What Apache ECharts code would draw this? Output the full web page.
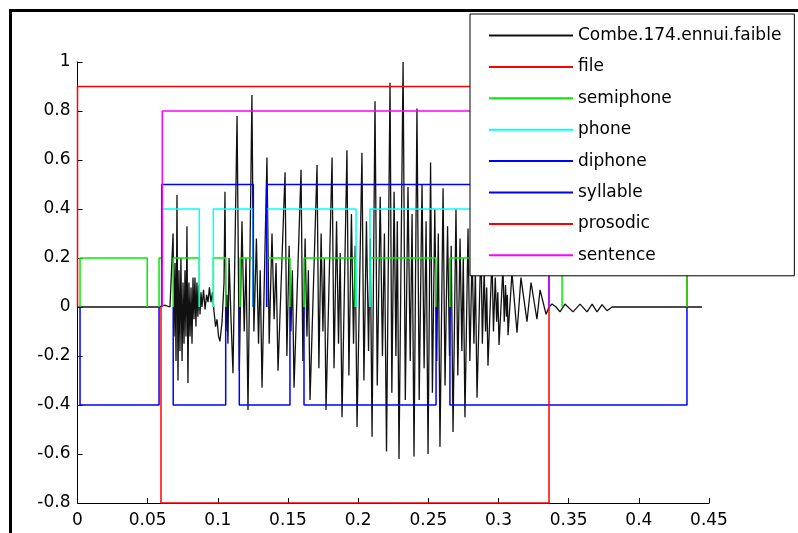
<!DOCTYPE html>
<html>
<head>
<meta charset="utf-8">
<script src="https://cdn.jsdelivr.net/npm/echarts@6/dist/echarts.min.js"></script>
<style>
  html, body { margin: 0; padding: 0; background: #fff; }
  #chart { width: 798px; height: 533px; }
</style>
</head>
<body>
<div id="chart"></div>
<script>
var waveTime = [
  0, 0.0580, 0.0620, 0.0659,
  0.0681, 0.0688, 0.0695, 0.0702, 0.0709, 0.0716, 0.0723, 0.0730, 0.0737, 0.0745, 0.0752, 0.0759, 0.0766, 0.0773,
  0.0780, 0.0787, 0.0794, 0.0802, 0.0809, 0.0816, 0.0823, 0.0830, 0.0837, 0.0844, 0.0851, 0.0858, 0.0866, 0.0873,
  0.0880, 0.0887, 0.0898, 0.0909, 0.0920, 0.0930, 0.0940, 0.0951, 0.0962, 0.0973, 0.0984, 0.0994, 0.1005, 0.1015,
  0.1030, 0.1044, 0.1051, 0.1058, 0.1065, 0.1072, 0.1080, 0.1094,
  0.1108, 0.1137, 0.1153, 0.1172, 0.1188, 0.1201,
  0.1215, 0.1243, 0.1257, 0.1275, 0.1290, 0.1302,
  0.1315, 0.1350, 0.1366, 0.1386, 0.1401, 0.1415,
  0.1429, 0.1479, 0.1492, 0.1508, 0.1521, 0.1531,
  0.1543, 0.1593, 0.1606, 0.1622, 0.1635, 0.1645,
  0.1657, 0.1707, 0.1720, 0.1736, 0.1749, 0.1759,
  0.1771, 0.1814, 0.1828, 0.1846, 0.1860, 0.1872,
  0.1885, 0.1920, 0.1934, 0.1952, 0.1967, 0.1979,
  0.1992, 0.2027, 0.2041, 0.2059, 0.2074, 0.2086,
  0.2099, 0.2120, 0.2136, 0.2157, 0.2173, 0.2187,
  0.2202, 0.2227, 0.2240, 0.2256, 0.2269, 0.2279,
  0.2291, 0.2320, 0.2336, 0.2355, 0.2371, 0.2384,
  0.2398, 0.2419, 0.2435, 0.2455, 0.2470, 0.2484,
  0.2498, 0.2516, 0.2529, 0.2546, 0.2560, 0.2571,
  0.2583, 0.2605, 0.2619, 0.2637, 0.2651, 0.2663,
  0.2676, 0.2697, 0.2710, 0.2726, 0.2739, 0.2749,
  0.2761, 0.2783, 0.2796, 0.2812, 0.2825, 0.2835,
  0.2847, 0.2875, 0.2885, 0.2898, 0.2908, 0.2916,
  0.2925, 0.2954, 0.2964, 0.2977, 0.2987, 0.2995,
  0.3004, 0.3032, 0.3041, 0.3050, 0.3057, 0.3063,
  0.3068, 0.3096, 0.3132, 0.3160, 0.3203, 0.3232, 0.3274, 0.3296,
  0.3339, 0.3360, 0.3381, 0.3410, 0.3438, 0.3474, 0.3531, 0.3581, 0.3631, 0.3667, 0.3702, 0.3738, 0.3773, 0.3809, 0.4450
];
var waveAmp = [
  0, 0, 0.008, 0,
  0.30, -0.12, 0.18, -0.22, 0.457, -0.30, 0.15, -0.18, 0.20, -0.22, 0.10, -0.15, 0.15, -0.12,
  0.33, -0.31, 0.10, -0.12, 0.08, -0.15, 0.12, -0.05, 0.12, -0.08, 0.10, -0.04, 0.09, -0.03,
  0.06, 0.0, 0.07, -0.01, 0.05, 0.02, 0.08, 0.02, 0.06, -0.02, -0.08, -0.05, -0.12, -0.14,
  -0.06, 0.10, 0.47, -0.10, 0.05, -0.15, 0.20, -0.05,
  -0.27, 0.78, -0.26, 0.35, -0.10, 0.20,
  -0.42, 0.865, -0.10, 0.28, -0.15, 0.15,
  -0.33, 0.61, -0.15, 0.30, -0.05, 0.18,
  -0.26, 0.55, -0.20, 0.25, -0.10, 0.15,
  -0.33, 0.56, -0.22, 0.28, -0.12, 0.15,
  -0.38, 0.58, -0.25, 0.30, -0.10, 0.20,
  -0.42, 0.61, -0.25, 0.35, -0.15, 0.22,
  -0.45, 0.64, -0.28, 0.38, -0.15, 0.25,
  -0.49, 0.63, -0.30, 0.35, -0.18, 0.28,
  -0.53, 0.84, -0.32, 0.45, -0.20, 0.30,
  -0.59, 0.915, -0.35, 0.47, -0.20, 0.35,
  -0.62, 1.0, -0.38, 0.49, -0.22, 0.38,
  -0.61, 0.81, -0.38, 0.50, -0.25, 0.35,
  -0.60, 0.59, -0.35, 0.40, -0.22, 0.30,
  -0.57, 0.485, -0.32, 0.33, -0.20, 0.25,
  -0.51, 0.40, -0.28, 0.28, -0.18, 0.20,
  -0.45, 0.32, -0.22, 0.22, -0.15, 0.15,
  -0.37, 0.26, -0.15, 0.15, -0.10, 0.08,
  -0.24, 0.20, -0.10, 0.12, -0.06, 0.06,
  -0.155, 0.16, -0.06, 0.09, -0.04, 0.05,
  -0.115, 0.14, -0.105, 0.12, -0.06, 0.10, -0.05, 0.07,
  -0.03, 0.0, 0.012, 0.0, -0.02, 0.012, -0.02, 0.012, -0.02, 0.012, -0.02, 0.01, -0.015, 0, 0
];

// segmentation tiers: [start, end] in seconds
var fileSegs = [[0, 0.4343]];
var semiphoneSegs = [[0.0018, 0.0497], [0.0581, 0.0600], [0.0682, 0.0868], [0.0968, 0.1056], [0.1158, 0.1253],
  [0.1348, 0.1514], [0.1614, 0.1978], [0.2084, 0.2553], [0.2654, 0.3360], [0.3453, 0.4343]];
var phoneSegs = [[0.0604, 0.0868], [0.0968, 0.1250], [0.1348, 0.1985], [0.2084, 0.3360]];
var diphoneSegs = [[0.0600, 0.1253], [0.1348, 0.3360]];
var syllableSegs = [[0.0018, 0.0581], [0.0682, 0.1056], [0.1153, 0.1514], [0.1614, 0.2555], [0.2654, 0.4343]];
var prosodicSegs = [[0.0595, 0.3360]];
var sentenceSegs = [[0.0604, 0.3360]];

var tierNames = ['file', 'semiphone', 'phone', 'diphone', 'syllable', 'prosodic', 'sentence'];
var tierLevels = [0.9, 0.2, 0.4, 0.5, -0.4, -0.8, 0.8];
var tierColors = ['#ff0000', '#00ee00', '#00ffff', '#0000ff', '#0000ff', '#ff0000', '#ff00ff'];
var tierSegs = [fileSegs, semiphoneSegs, phoneSegs, diphoneSegs, syllableSegs, prosodicSegs, sentenceSegs];

var xTicks = [0, 0.45, 0.05];
var yTicks = [-0.8, 1, 0.2];

function boxes(segs, level) {
  var pts = [];
  segs.forEach(function (s) {
    pts.push([s[0], 0], [s[0], level], [s[1], level], [s[1], 0], [null, null]);
  });
  return pts;
}

var wave = waveTime.map(function (t, i) { return [t, waveAmp[i]]; });

var series = [{
  name: 'Combe.174.ennui.faible',
  type: 'line',
  data: wave,
  showSymbol: false,
  symbol: 'none',
  lineStyle: { color: '#111', width: 1.3 },
  itemStyle: { color: '#111' },
  animation: false
}];
tierNames.forEach(function (n, i) {
  series.push({
    name: n,
    type: 'line',
    data: boxes(tierSegs[i], tierLevels[i]),
    showSymbol: false,
    symbol: 'none',
    connectNulls: false,
    clip: false,
    lineStyle: { color: tierColors[i], width: 1.5 },
    itemStyle: { color: tierColors[i] },
    animation: false
  });
});

var labelFont = { fontFamily: 'DejaVu Sans', fontSize: 17, color: '#000' };

var myChart = echarts.init(document.getElementById('chart'));
myChart.setOption({
  animation: false,
  backgroundColor: '#fff',
  grid: { left: 77.5, right: 89, top: 62, bottom: 30 },
  xAxis: {
    type: 'value',
    min: xTicks[0], max: xTicks[1], interval: xTicks[2],
    splitLine: { show: false },
    axisLine: { onZero: false, lineStyle: { color: '#000', width: 1 } },
    axisTick: { inside: true, length: 5, lineStyle: { color: '#000' } },
    axisLabel: Object.assign({ margin: 9 }, labelFont)
  },
  yAxis: {
    type: 'value',
    min: yTicks[0], max: yTicks[1], interval: yTicks[2],
    splitLine: { show: false },
    axisLine: { show: true, onZero: false, lineStyle: { color: '#000', width: 1 } },
    axisTick: { show: true, inside: true, length: 5, lineStyle: { color: '#000' } },
    axisLabel: Object.assign({ margin: 7 }, labelFont)
  },
  legend: {
    data: ['Combe.174.ennui.faible'].concat(tierNames),
    orient: 'vertical',
    left: 470,
    top: 14,
    padding: [13, 13, 12, 18],
    itemWidth: 84,
    itemHeight: 17,
    itemGap: 14.4,
    backgroundColor: '#fff',
    borderColor: '#000',
    borderWidth: 1,
    selectedMode: false,
    itemStyle: { opacity: 0 },
    textStyle: labelFont
  },
  graphic: [{
    type: 'polyline',
    shape: { points: [[10.5, 533], [10.5, 10.5], [798, 10.5]] },
    style: { stroke: '#000', lineWidth: 3, fill: null }
  }],
  series: series
});
</script>
</body>
</html>
